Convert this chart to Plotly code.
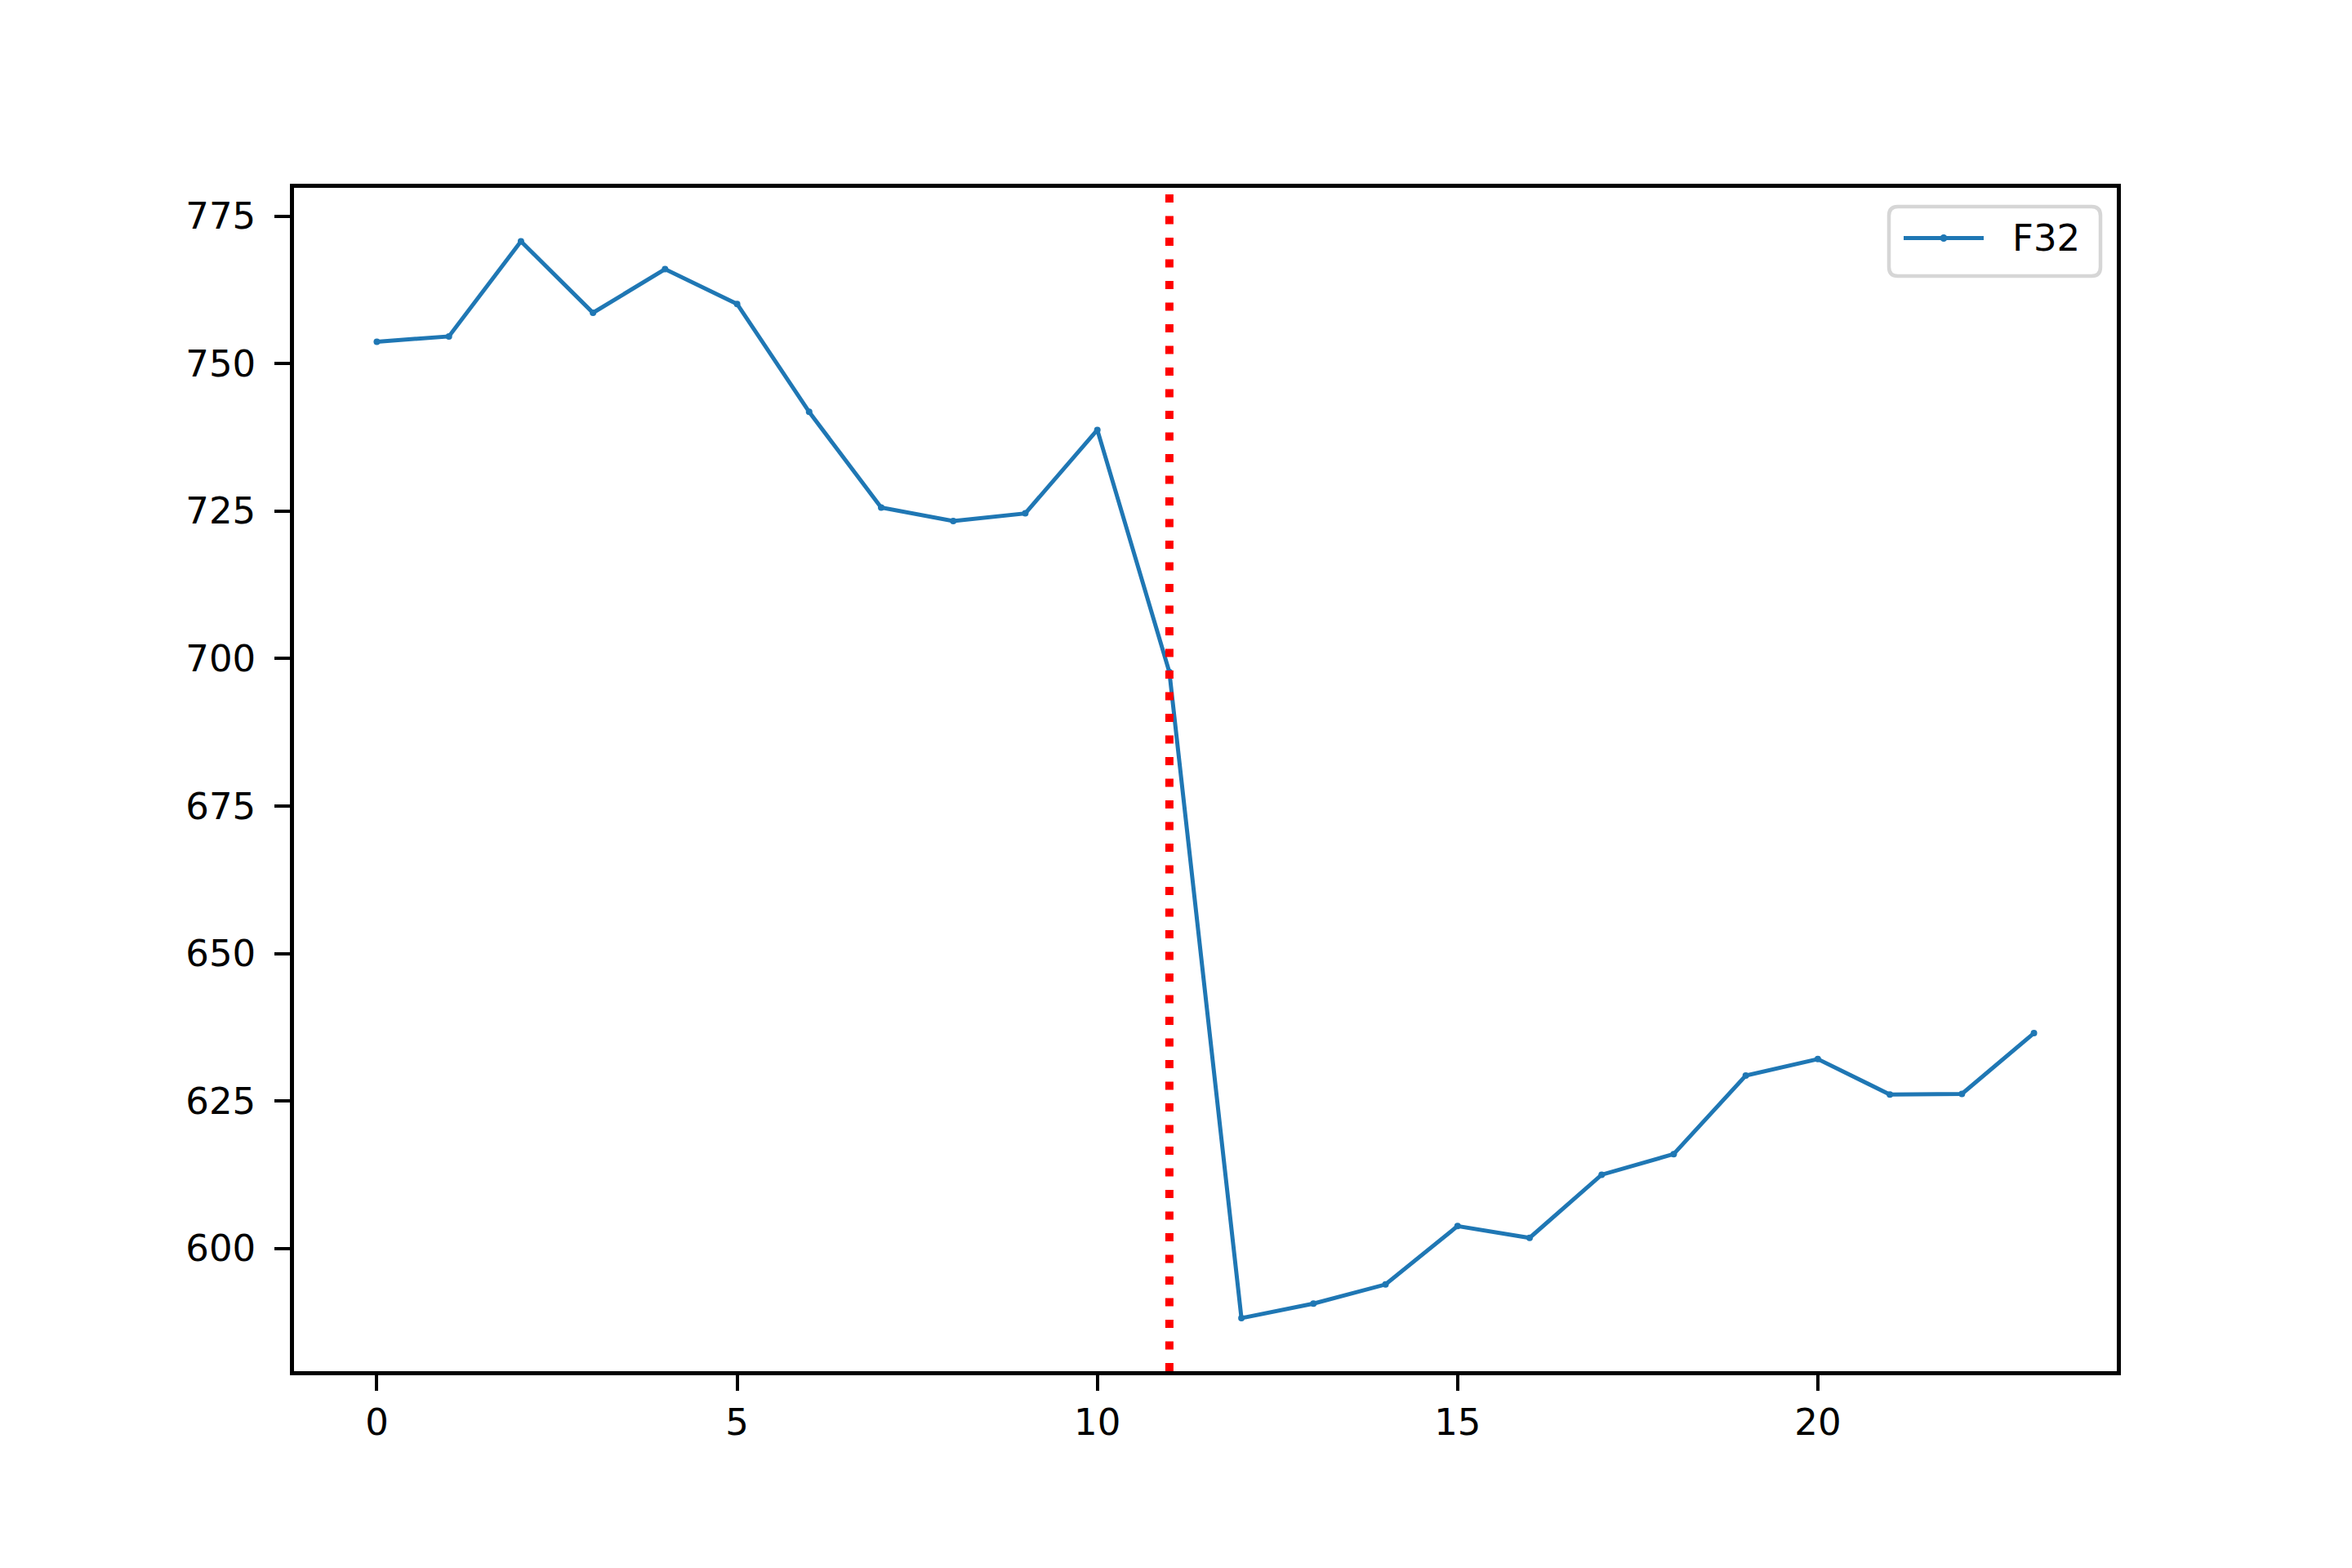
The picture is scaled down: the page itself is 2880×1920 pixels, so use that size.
import plotly.graph_objects as go

# ---- data ----
x_vals = list(range(24))
f32_vals = [753.7, 754.6, 770.7, 758.6, 766.0, 760.1, 741.8, 725.6, 723.3, 724.6,
            738.75, 697.7, 588.2, 590.65, 593.9, 603.8, 601.8, 612.5, 616.0, 629.3,
            632.1, 626.1, 626.2, 636.5]
series_name = "F32"
split_x = 11
x_ticks = [0, 5, 10, 15, 20]
y_ticks = [600, 625, 650, 675, 700, 725, 750, 775]
x_range = [-1.15, 24.15]
y_range = [579.2, 779.78]

# ---- layout constants (pixels, screen space of the reference) ----
W, H = 2880, 1920
OFF = 8  # page body margin offset
L_s, R_s, T_s, B_s = 360, 288, 230, 241   # desired on-screen margins
L, R, T, B = L_s - OFF, R_s + OFF, T_s - OFF, B_s + OFF
PW, PH = W - L_s - R_s, H - T_s - B_s
BLUE = "#1f77b4"
FONT = "DejaVu Sans"


def px_to_paper(px, py):
    return (px - L_s) / PW, (H - B_s - py) / PH


fig = go.Figure()
fig.add_trace(go.Scatter(
    x=x_vals, y=f32_vals, mode="lines+markers", name=series_name,
    line=dict(color=BLUE, width=5), marker=dict(size=8, color=BLUE),
    showlegend=False,
))
fig.add_vline(x=split_x, line=dict(color="red", width=10, dash="10px,16.5px"))

# ---- manual legend (matplotlib-style rounded frame) ----
bx0, by0, bx1, by1 = 2313, 253, 2572, 338
rad = 11
rx, ry = rad / PW, rad / PH
X0, Y0 = px_to_paper(bx0, by0)
X1, Y1 = px_to_paper(bx1, by1)
path = (f"M {X0+rx},{Y0} L {X1-rx},{Y0} Q {X1},{Y0} {X1},{Y0-ry} "
        f"L {X1},{Y1+ry} Q {X1},{Y1} {X1-rx},{Y1} L {X0+rx},{Y1} "
        f"Q {X0},{Y1} {X0},{Y1+ry} L {X0},{Y0-ry} Q {X0},{Y0} {X0+rx},{Y0} Z")
fig.add_shape(type="path", path=path, xref="paper", yref="paper",
              line=dict(color="#d6d6d6", width=4.5), fillcolor="rgba(255,255,255,0.8)")
lx0, ly = px_to_paper(2331, 291.5)
lx1, _ = px_to_paper(2429, 291.5)
fig.add_shape(type="line", xref="paper", yref="paper", x0=lx0, x1=lx1, y0=ly, y1=ly,
              line=dict(color=BLUE, width=5))
cx, _ = px_to_paper(2380, 291.5)
fig.add_shape(type="circle", xref="paper", yref="paper",
              x0=cx - 4.5 / PW, x1=cx + 4.5 / PW, y0=ly - 4.5 / PH, y1=ly + 4.5 / PH,
              fillcolor=BLUE, line=dict(width=0))
tx, ty = px_to_paper(2462, 291.5)
fig.add_annotation(x=tx, y=ty, xref="paper", yref="paper", text=series_name,
                   showarrow=False, xanchor="left", yanchor="middle",
                   font=dict(family=FONT, size=45, color="black"))

axis_common = dict(
    ticks="outside", ticklen=19, tickwidth=4, tickcolor="black",
    showline=True, linecolor="black", linewidth=4.5, mirror=True,
    showgrid=False, zeroline=False,
    tickfont=dict(family=FONT, size=45, color="black"),
)
fig.update_xaxes(range=x_range, tickvals=x_ticks, ticklabelstandoff=0, **axis_common)
fig.update_yaxes(range=y_range, tickvals=y_ticks, ticklabelstandoff=14, **axis_common)

fig.update_layout(
    width=W, height=H,
    margin=dict(l=L, r=R, t=T, b=B, pad=0),
    plot_bgcolor="white", paper_bgcolor="white",
    font=dict(family=FONT, size=45, color="black"),
    showlegend=False,
)

fig.write_html("out.html")
